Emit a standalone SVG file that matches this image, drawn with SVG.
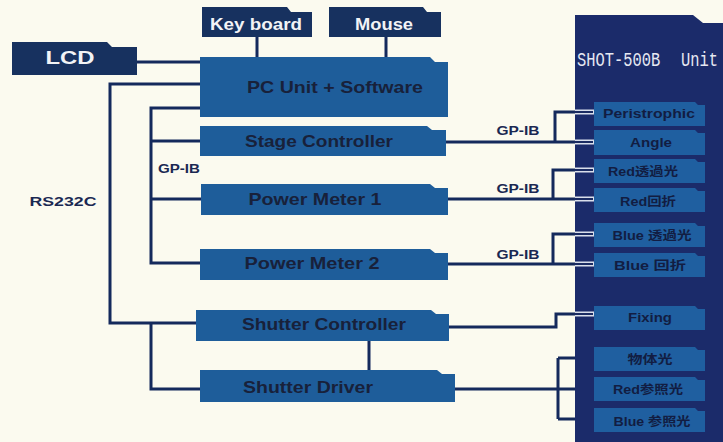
<svg xmlns="http://www.w3.org/2000/svg" width="723" height="442" viewBox="0 0 723 442">
<style>
.bg{fill:#fbfaef}
.navy{fill:#17315f}
.panel{fill:#1b2b6a}
.box{fill:#1e5d9a}
.sub{fill:#1f5fa0}
.wt{font-family:"Liberation Sans","Noto Sans CJK JP",sans-serif;font-weight:bold;fill:#f2f3f6;text-anchor:middle}
.dt{font-family:"Liberation Sans","Noto Sans CJK JP",sans-serif;font-weight:bold;fill:#18213a;text-anchor:middle}
.st{font-family:"Liberation Sans","Noto Sans CJK JP",sans-serif;font-weight:bold;fill:#121d42;text-anchor:middle;font-size:12.5px}
.lbl{font-family:"Liberation Sans",sans-serif;font-weight:bold;fill:#1a2852;text-anchor:middle}
.mono{font-family:"Liberation Mono",monospace;fill:#e6e8f2;font-size:15.4px}
.ln{fill:none;stroke:#14295c;stroke-width:3}
.pl{fill:none;stroke:#d9dfeb;stroke-width:5}
.pd{fill:none;stroke:#1a2b62;stroke-width:2}
</style>
<rect class="bg" x="0" y="0" width="723" height="442"/>

<g id="shot500b">
<path class="panel" d="M575 15 H693 L703 23 H723 V442 H575 Z"/>
<g transform="translate(0,66) scale(1,1.3)">
<text class="mono" x="577" y="0">SHOT-500B</text>
<text class="mono" x="681" y="0">Unit</text>
</g>
</g>

<g id="connectors">
<path class="ln" d="M257 37 V57"/>
<path class="ln" d="M386 37 V57"/>
<path class="ln" d="M137 62 H200"/>
<path class="ln" d="M200 84 H110 V323 H196"/>
<path class="ln" d="M151 323 V389 H200"/>
<path class="ln" d="M200 108 H151 V263 H200"/>
<path class="ln" d="M151 141 H200"/>
<path class="ln" d="M151 199 H201"/>
<path class="ln" d="M369 341 V370"/>
<path class="ln" d="M446 142 H575 M555 142 V112 H575"/>
<path class="ln" d="M448 199 H575 M553 199 V170 H575"/>
<path class="ln" d="M448 264 H575 M553 264 V234 H575"/>
<path class="ln" d="M449 327 H556 V314 H575"/>
<path class="ln" d="M455 389 H575 M558 358 V419 M558 358 H575 M558 419 H575"/>
<path class="pl" d="M575 112 H594 M575 142 H594 M575 170 H594 M575 199 H594 M575 234 H594 M575 264 H594 M575 314 H594"/>
<path class="pd" d="M574 112 H593 M574 142 H593 M574 170 H593 M574 199 H593 M574 234 H593 M574 264 H593 M574 314 H593"/>
<text class="lbl" x="179" y="173" font-size="12.5" textLength="42" lengthAdjust="spacingAndGlyphs">GP-IB</text>
<text class="lbl" x="63" y="206" font-size="13" textLength="67" lengthAdjust="spacingAndGlyphs">RS232C</text>
<text class="lbl" x="518" y="135" font-size="12.5" textLength="43" lengthAdjust="spacingAndGlyphs">GP-IB</text>
<text class="lbl" x="518" y="193" font-size="12.5" textLength="43" lengthAdjust="spacingAndGlyphs">GP-IB</text>
<text class="lbl" x="518" y="259" font-size="12.5" textLength="43" lengthAdjust="spacingAndGlyphs">GP-IB</text>
</g>

<g id="lcd">
<path class="navy" d="M12 42 H107 L112 47 H137 V75 H12 Z"/>
<text class="wt" x="70" y="64" font-size="19" textLength="49" lengthAdjust="spacingAndGlyphs">LCD</text>
</g>
<g id="keyboard">
<path class="navy" d="M202 7 H287 L291 12 H312 V37 H202 Z"/>
<text class="wt" x="256" y="30" font-size="17" textLength="92" lengthAdjust="spacingAndGlyphs">Key board</text>
</g>
<g id="mouse">
<path class="navy" d="M329 7 H423 L427 12 H441 V37 H329 Z"/>
<text class="wt" x="384" y="30" font-size="17" textLength="58" lengthAdjust="spacingAndGlyphs">Mouse</text>
</g>
<g id="pcunit">
<path class="box" d="M200 57 H430 L435 62 H448 V117 H200 Z"/>
<text class="dt" x="335" y="93" font-size="17" textLength="176" lengthAdjust="spacingAndGlyphs">PC Unit + Software</text>
</g>
<g id="stage">
<path class="box" d="M200 126 H427 L432 130 H446 V156 H200 Z"/>
<text class="dt" x="319" y="147" font-size="17" textLength="148" lengthAdjust="spacingAndGlyphs">Stage Controller</text>
</g>
<g id="pm1">
<path class="box" d="M201 184 H430 L435 188 H448 V215 H201 Z"/>
<text class="dt" x="315" y="205" font-size="17" textLength="133" lengthAdjust="spacingAndGlyphs">Power Meter 1</text>
</g>
<g id="pm2">
<path class="box" d="M200 249 H430 L435 253 H448 V280 H200 Z"/>
<text class="dt" x="312" y="269" font-size="17" textLength="135" lengthAdjust="spacingAndGlyphs">Power Meter 2</text>
</g>
<g id="shutterctrl">
<path class="box" d="M196 310 H431 L436 314 H449 V341 H196 Z"/>
<text class="dt" x="324" y="330" font-size="17" textLength="164" lengthAdjust="spacingAndGlyphs">Shutter Controller</text>
</g>
<g id="shutterdrv">
<path class="box" d="M200 370 H437 L442 374 H455 V402 H200 Z"/>
<text class="dt" x="308" y="393" font-size="17" textLength="130" lengthAdjust="spacingAndGlyphs">Shutter Driver</text>
</g>

<g id="peristrophic">
<path class="sub" d="M594 102 H695 L698 105 H705 V126 H594 Z"/>
<text class="st" x="649" y="118" textLength="92" lengthAdjust="spacingAndGlyphs">Peristrophic</text>
</g>
<g id="angle">
<path class="sub" d="M594 130 H695 L698 133 H705 V155 H594 Z"/>
<text class="st" x="651" y="147" textLength="42" lengthAdjust="spacingAndGlyphs">Angle</text>
</g>
<g id="red-trans">
<path class="sub" d="M594 159 H695 L698 162 H705 V183 H594 Z"/>
<text class="st" x="643" y="176" textLength="70" lengthAdjust="spacingAndGlyphs">Red透過光</text>
</g>
<g id="red-diff">
<path class="sub" d="M594 188 H695 L698 191 H705 V212 H594 Z"/>
<text class="st" x="648" y="206" textLength="56" lengthAdjust="spacingAndGlyphs">Red回折</text>
</g>
<g id="blue-trans">
<path class="sub" d="M594 223 H695 L698 226 H705 V247 H594 Z"/>
<text class="st" x="652" y="240" textLength="79" lengthAdjust="spacingAndGlyphs">Blue 透過光</text>
</g>
<g id="blue-diff">
<path class="sub" d="M594 253 H695 L698 256 H705 V277 H594 Z"/>
<text class="st" x="650" y="270" textLength="72" lengthAdjust="spacingAndGlyphs">Blue 回折</text>
</g>
<g id="fixing">
<path class="sub" d="M594 306 H695 L698 309 H705 V330 H594 Z"/>
<text class="st" x="650" y="322" textLength="44" lengthAdjust="spacingAndGlyphs">Fixing</text>
</g>
<g id="object-light">
<path class="sub" d="M594 347 H695 L698 350 H705 V371 H594 Z"/>
<text class="st" x="650" y="364" textLength="45" lengthAdjust="spacingAndGlyphs">物体光</text>
</g>
<g id="red-ref">
<path class="sub" d="M594 377 H695 L698 380 H705 V401 H594 Z"/>
<text class="st" x="648" y="394" textLength="70" lengthAdjust="spacingAndGlyphs">Red参照光</text>
</g>
<g id="blue-ref">
<path class="sub" d="M594 408 H695 L698 411 H705 V432 H594 Z"/>
<text class="st" x="652" y="426" textLength="77" lengthAdjust="spacingAndGlyphs">Blue 参照光</text>
</g>
</svg>
